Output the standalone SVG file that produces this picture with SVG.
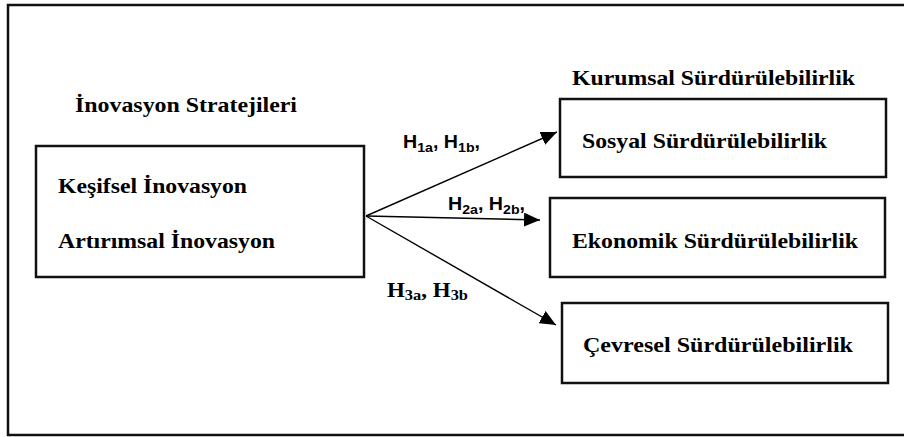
<svg xmlns="http://www.w3.org/2000/svg" width="904" height="437" viewBox="0 0 904 437">
<defs>
<style>
.frame{fill:none;stroke:#111;stroke-width:2.5}
.box{fill:#fff;stroke:#111;stroke-width:2.5}
.t{font-family:"Liberation Serif","Times New Roman",serif;font-weight:bold;font-size:22px;fill:#000}
.h{font-family:"Liberation Sans",Arial,sans-serif;font-weight:bold;font-size:18px;fill:#000}
.hs{font-family:"Liberation Serif","Times New Roman",serif;font-weight:bold;font-size:21px;fill:#000}
.sub{font-size:13px}
.sub2{font-size:15px}
.conn{stroke:#000;stroke-width:1.4;fill:none;marker-end:url(#ah)}
</style>
<marker id="ah" markerUnits="userSpaceOnUse" markerWidth="18" markerHeight="14" refX="16" refY="7" orient="auto">
<path d="M0,0 L16,7 L0,14 Z" fill="#000"/>
</marker>
</defs>
<rect class="frame" x="8" y="5" width="910" height="430"/>
<g id="title-left"><text class="t" x="75" y="112" textLength="222" lengthAdjust="spacingAndGlyphs">İnovasyon Stratejileri</text></g>
<g id="title-right"><text class="t" x="572" y="85" textLength="283" lengthAdjust="spacingAndGlyphs">Kurumsal Sürdürülebilirlik</text></g>
<g id="inovasyon">
<rect class="box" x="36" y="146" width="328" height="131"/>
<text class="t" x="58" y="193" textLength="189" lengthAdjust="spacingAndGlyphs">Keşifsel İnovasyon</text>
<text class="t" x="58" y="248" textLength="217" lengthAdjust="spacingAndGlyphs">Artırımsal İnovasyon</text>
</g>
<g id="sosyal">
<rect class="box" x="560" y="99" width="326" height="78"/>
<text class="t" x="582" y="148" textLength="245" lengthAdjust="spacingAndGlyphs">Sosyal Sürdürülebilirlik</text>
</g>
<g id="ekonomik">
<rect class="box" x="550" y="198" width="335" height="79"/>
<text class="t" x="572" y="248" textLength="286" lengthAdjust="spacingAndGlyphs">Ekonomik Sürdürülebilirlik</text>
</g>
<g id="cevresel">
<rect class="box" x="562" y="303" width="326" height="80"/>
<text class="t" x="583" y="352" textLength="270" lengthAdjust="spacingAndGlyphs">Çevresel Sürdürülebilirlik</text>
</g>
<g id="connectors">
<line class="conn" x1="366" y1="216" x2="557" y2="132"/>
<line class="conn" x1="366" y1="216" x2="540" y2="220"/>
<line class="conn" x1="366" y1="216" x2="556" y2="325"/>
</g>
<g id="labels">
<text class="h" x="403" y="148" textLength="77" lengthAdjust="spacingAndGlyphs">H<tspan class="sub" dy="4">1a</tspan><tspan dy="-4">, H</tspan><tspan class="sub" dy="4">1b</tspan><tspan dy="-4">,</tspan></text>
<text class="h" x="448" y="210" textLength="77" lengthAdjust="spacingAndGlyphs">H<tspan class="sub" dy="4">2a</tspan><tspan dy="-4">, H</tspan><tspan class="sub" dy="4">2b</tspan><tspan dy="-4">,</tspan></text>
<text class="hs" x="387" y="297" textLength="81" lengthAdjust="spacingAndGlyphs">H<tspan class="sub2" dy="3">3a</tspan><tspan dy="-3">, H</tspan><tspan class="sub2" dy="3">3b</tspan></text>
</g>
</svg>
